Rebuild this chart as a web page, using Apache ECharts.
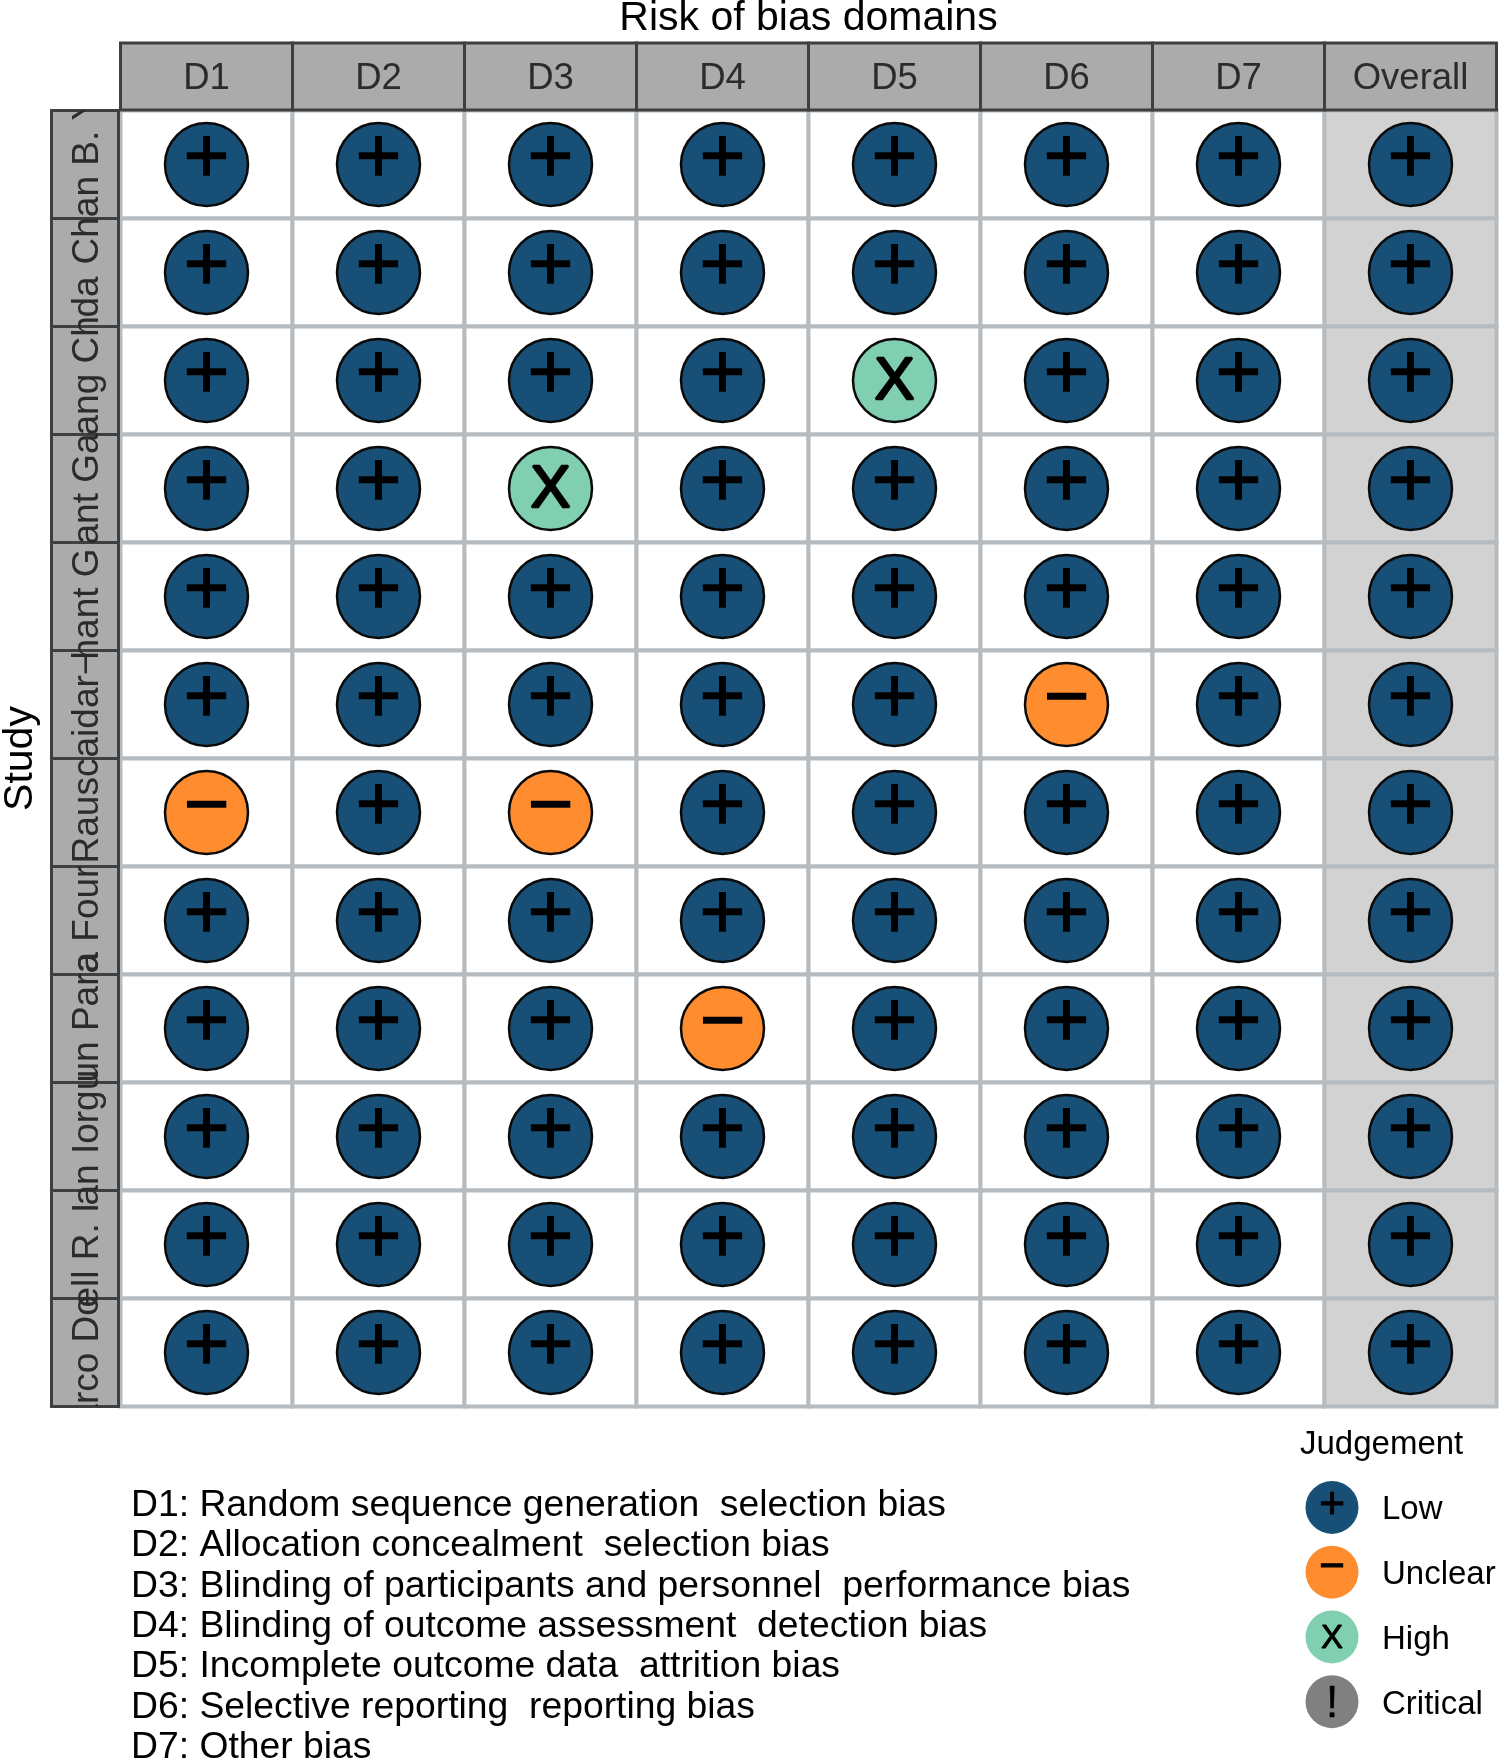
<!DOCTYPE html>
<html><head><meta charset="utf-8">
<style>html,body{margin:0;padding:0;background:#fff}#c{width:1500px;height:1761px}</style>
<script src="https://cdn.jsdelivr.net/npm/echarts@6/dist/echarts.min.js"></script>
</head><body><div id="c"></div>
<script>
const domains = ['D1','D2','D3','D4','D5','D6','D7','Overall'];
const studyLabels = ['Chan B. Yan','da','ang Ch','ant Ga','hant G','aidar\u2212','Rausc','a Four','un Para','an Iorgu','ell R. I','Marco Do'];
const judgementLevels = ['Low','Unclear','High','Critical'];
const row01 = ['Low','Low','Low','Low','Low','Low','Low','Low'];
const row02 = ['Low','Low','Low','Low','Low','Low','Low','Low'];
const row03 = ['Low','Low','Low','Low','High','Low','Low','Low'];
const row04 = ['Low','Low','High','Low','Low','Low','Low','Low'];
const row05 = ['Low','Low','Low','Low','Low','Low','Low','Low'];
const row06 = ['Low','Low','Low','Low','Low','Unclear','Low','Low'];
const row07 = ['Unclear','Low','Unclear','Low','Low','Low','Low','Low'];
const row08 = ['Low','Low','Low','Low','Low','Low','Low','Low'];
const row09 = ['Low','Low','Low','Unclear','Low','Low','Low','Low'];
const row10 = ['Low','Low','Low','Low','Low','Low','Low','Low'];
const row11 = ['Low','Low','Low','Low','Low','Low','Low','Low'];
const row12 = ['Low','Low','Low','Low','Low','Low','Low','Low'];
const domainNotes = [
 'D1: Random sequence generation  selection bias',
 'D2: Allocation concealment  selection bias',
 'D3: Blinding of participants and personnel  performance bias',
 'D4: Blinding of outcome assessment  detection bias',
 'D5: Incomplete outcome data  attrition bias',
 'D6: Selective reporting  reporting bias',
 'D7: Other bias'];

const rows = [row01,row02,row03,row04,row05,row06,row07,row08,row09,row10,row11,row12];
const labelStartOffset = [100,45,55,56,63,53,51,52,54,69,63,103];
const FONT = '"Liberation Sans", Arial, sans-serif';
const colors = {Low:'#184f76',Unclear:'#ff8c2f',High:'#7fcfb0',Critical:'#808080'};
const glyphs = {Low:'+',Unclear:'\u2212',High:'X',Critical:'!'};
const glyphStyle = {
  Low:{fontSize:78,offset:[0,-4],border:1.4},
  Unclear:{fontSize:78,offset:[0,-4.5],border:1.4},
  High:{fontSize:60,offset:[0,2],border:2.5},
  Critical:{fontSize:60,offset:[0,2],border:2.5}
};
const legendGlyphStyle = {
  Low:{fontSize:44,offset:[0,-2],border:1},
  Unclear:{fontSize:44,offset:[0,-4],border:1},
  High:{fontSize:33,offset:[0,2],border:1},
  Critical:{fontSize:44,offset:[0,3],border:0.5}
};
const GRID = {left:120.5,top:110.5,width:1376,height:1296,outerBoundsMode:'none'};
const cellData = [];
domains.forEach((d,i)=>studyLabels.forEach((s,j)=>cellData.push([i,j])));

const series = [
 {type:'custom',name:'panels',xAxisIndex:0,yAxisIndex:0,silent:true,z:1,data:cellData,
  renderItem(p,api){
   const c=api.coord([api.value(0),api.value(1)]),s=api.size([1,1]);
   return {type:'rect',shape:{x:c[0]-s[0]/2,y:c[1]-s[1]/2,width:s[0],height:s[1]},
     style:{fill:api.value(0)===domains.length-1?'#d2d2d2':'#ffffff',stroke:'#b6bbbf',lineWidth:4}};
  }},
 {type:'custom',name:'topStrips',xAxisIndex:0,yAxisIndex:0,silent:true,z:1,data:domains.map((d,i)=>[i,0]),
  renderItem(p,api){
   const c=api.coord([api.value(0),0]),s=api.size([1,1]);
   return {type:'rect',shape:{x:c[0]-s[0]/2,y:GRID.top-67.5,width:s[0],height:67},
     style:{fill:'#ababab',stroke:'#3f3f3f',lineWidth:3}};
  }},
 {type:'custom',name:'sideStrips',xAxisIndex:0,yAxisIndex:0,silent:true,z:1,data:studyLabels.map((d,j)=>[0,j]),
  renderItem(p,api){
   const j=api.value(1),c=api.coord([0,j]),s=api.size([1,1]);
   return {type:'rect',shape:{x:GRID.left-69,y:c[1]-s[1]/2,width:67,height:s[1]},
     style:{fill:'#ababab',stroke:'#3f3f3f',lineWidth:3}};
  }},
 {type:'custom',name:'sideLabels',xAxisIndex:0,yAxisIndex:0,silent:true,z:3,data:studyLabels.map((d,j)=>[0,j]),
  renderItem(p,api){
   const j=api.value(1),c=api.coord([0,j]);
   return {type:'group',
     clipPath:{type:'rect',shape:{x:GRID.left-70,y:GRID.top,width:68,height:GRID.height}},
     children:[{type:'text',x:GRID.left-33,y:c[1]+labelStartOffset[j],rotation:Math.PI/2,
       style:{text:studyLabels[j],x:0,y:0,align:'left',verticalAlign:'middle',font:'37px '+FONT,fill:'#2b2b2b'}}]};
  }}
];
['Low','Unclear','High','Critical'].forEach(level=>{
 const pts=[];
 rows.forEach((r,j)=>r.forEach((v,i)=>{if(v===level)pts.push([i,j]);}));
 const g=glyphStyle[level],k=legendGlyphStyle[level];
 series.push({type:'scatter',name:level,xAxisIndex:0,yAxisIndex:0,z:5,symbol:'circle',symbolSize:83,silent:true,data:pts,
  itemStyle:{color:colors[level],borderColor:'#0a0a0a',borderWidth:2.5,opacity:1},
  label:{show:true,position:'inside',formatter:()=>glyphs[level],color:'#000',textBorderColor:'#000',textBorderWidth:g.border,fontFamily:FONT,fontSize:g.fontSize,offset:g.offset}});
 series.push({type:'scatter',name:level+' key',xAxisIndex:1,yAxisIndex:1,z:5,symbol:'circle',symbolSize:53,symbolOffset:[0,-3],silent:true,data:[[0,level]],
  itemStyle:{color:colors[level],opacity:1},
  label:{show:true,position:'inside',formatter:()=>glyphs[level],color:'#000',textBorderColor:'#000',textBorderWidth:k.border,fontFamily:FONT,fontSize:k.fontSize,offset:k.offset}});
});

const option = {
 animation:false,backgroundColor:'#fff',textStyle:{fontFamily:FONT},
 grid:[GRID,{left:1300,top:1478,width:64,height:259,outerBoundsMode:'none'}],
 xAxis:[
  {type:'category',gridIndex:0,position:'top',data:domains,z:10,axisLine:{show:false},axisTick:{show:false},splitLine:{show:false},
   axisLabel:{color:'#2b2b2b',fontSize:36.5,margin:13,fontFamily:FONT,interval:0},
   name:'Risk of bias domains',nameLocation:'middle',nameGap:71,nameTextStyle:{fontSize:41,color:'#000',fontFamily:FONT}},
  {type:'category',gridIndex:1,data:['key'],show:false}
 ],
 yAxis:[
  {type:'category',gridIndex:0,inverse:true,data:studyLabels,axisLine:{show:false},axisTick:{show:false},axisLabel:{show:false},splitLine:{show:false},
   name:'Study',nameLocation:'middle',nameGap:79,nameTextStyle:{fontSize:41,color:'#000',fontFamily:FONT}},
  {type:'category',gridIndex:1,inverse:true,position:'right',data:judgementLevels,axisLine:{show:false},axisTick:{show:false},splitLine:{show:false},
   axisLabel:{color:'#000',fontSize:33,margin:18,fontFamily:FONT,interval:0}}
 ],
 graphic:[
  {type:'text',left:1300,top:1428,style:{text:'Judgement',font:'33px '+FONT,fill:'#000'}},
  ...domainNotes.map((t,i)=>({type:'text',left:131,top:1487+i*40.4,style:{text:t,font:'37.3px '+FONT,fill:'#000'}}))
 ],
 series
};
echarts.init(document.getElementById('c'),null,{renderer:'canvas'}).setOption(option);
</script></body></html>
